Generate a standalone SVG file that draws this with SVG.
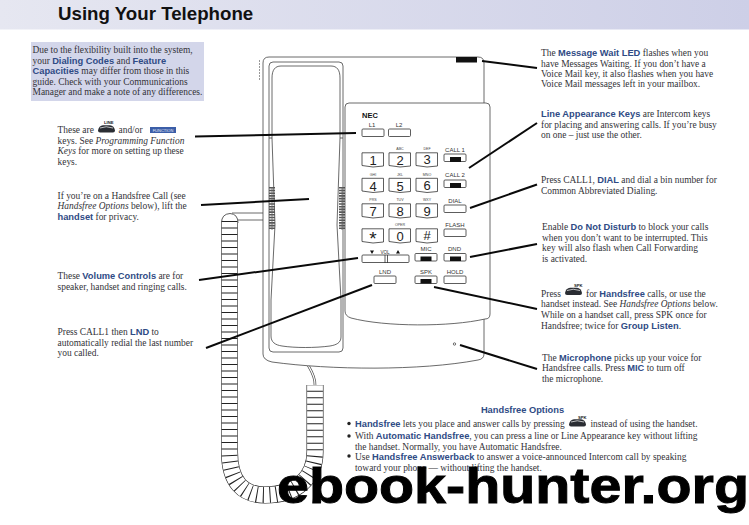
<svg xmlns="http://www.w3.org/2000/svg" width="749" height="525" viewBox="0 0 749 525">
<style>
text{font-family:"Liberation Serif","Times New Roman",serif;font-size:9.43px;fill:#333338}
.b{font-family:"Liberation Sans",Arial,sans-serif;font-weight:bold;font-size:9.3px;fill:#2f4b85}
.i{font-style:italic}
.t{font-family:"Liberation Sans",Arial,sans-serif;font-weight:bold;font-size:18.7px;fill:#111}
.k{font-family:"Liberation Sans",Arial,sans-serif;font-size:6px;fill:#333;text-anchor:middle}
.s{font-family:"Liberation Sans",Arial,sans-serif;font-size:3.6px;fill:#444;text-anchor:middle}
.n{font-family:"Liberation Sans",Arial,sans-serif;font-size:13px;fill:#222;text-anchor:middle}
.w{font-family:"Liberation Sans",Arial,sans-serif;font-weight:bold;font-size:50px;fill:#000;stroke:#000;stroke-width:.9}
.o{fill:none;stroke:#444;stroke-width:.8}
.key{fill:#fff;stroke:#333;stroke-width:.8}
.led{fill:#111}
.lead{stroke:#0a0a0a;stroke-width:2;fill:none}
.tag{font-family:"Liberation Sans",Arial,sans-serif;font-weight:bold;font-size:4.2px;fill:#222}
</style>
<defs>
<linearGradient id="hdr" x1="0" x2="1" y1="0" y2="0"><stop offset="0" stop-color="#e6e7f1"/><stop offset="1" stop-color="#cdcfe7"/></linearGradient>
<g id="icon"><path d="M0,6 Q1,1 5,0.8 L12,0.8 Q16,1 17,6 Q17,8 15,8 L2,8 Q0,8 0,6Z" fill="#2a2d33"/><path d="M2,3.5 Q8,1 15,3.5" fill="none" stroke="#fff" stroke-width=".7"/></g>
<path id="numkey" d="M0,0.8 H21.5 V14 L11,15 L0,13.5Z"/>
<rect id="fk" width="22" height="7.5" rx="1"/>
<path id="coilpath" d="M229.5,221 V452 C229.5,482 243,495 265,495 C296,495 315,478 315,452 V385"/>
</defs>

<g id="header"><rect width="749" height="29.5" fill="url(#hdr)"/><text class="t" x="58" y="20">Using Your Telephone</text></g>

<g id="note">
<rect x="31" y="42" width="173" height="59" fill="#d3d6ea"/>
<text x="32.5" y="53">Due to the flexibility built into the system,</text>
<text x="32.5" y="63.5">your <tspan class="b">Dialing Codes</tspan> and <tspan class="b">Feature</tspan></text>
<text x="32.5" y="74"><tspan class="b">Capacities</tspan> may differ from those in this</text>
<text x="32.5" y="84.5">guide. Check with your Communications</text>
<text x="32.5" y="95">Manager and make a note of any differences.</text>
</g>

<g id="telephone">
<path d="M303,352 C303,362 316,372 315,385" fill="none" stroke="#444" stroke-width="2.6"/><path d="M303,352 C303,362 316,372 315,385" fill="none" stroke="#fff" stroke-width="1.2"/>
<path d="M232,213 H263 M238,220 H263" class="o"/>
<path d="M221.5,223 Q221.5,214 230,213.5 Q238,214 238,223" fill="#fff" stroke="#333" stroke-width=".8"/>
<g id="coil" fill="none">
<use href="#coilpath" stroke="#222" stroke-width="17"/>
<use href="#coilpath" stroke="#fff" stroke-width="15.8"/>
<use href="#coilpath" stroke="#222" stroke-width="15.8" stroke-dasharray="1 5.5"/>
</g>
<path id="body" class="o" d="M263,63 Q263,57 269,57 H478 Q484,57 484,63 V354 Q484,359 478,360 C420,371 330,370 272,362 Q263,360 263,354Z" style="fill:#fff"/>
<rect class="led" x="456" y="57" width="21" height="5.5"/>
<path stroke="#999" stroke-width="1" stroke-dasharray="2 1" d="M259.5,60 V80" fill="none"/>
<g id="handset" class="o">
<path d="M269,66 Q269,62 273,62 H339 Q343,62 343,66 V348 Q343,352 339,352 H273 Q269,352 269,348Z" style="fill:#fff"/>
<path d="M272,78 C272,70 275,66 281,66 H331 C337,66 340,70 340,78 V138 L337,225 L341,300 V337 C341,343 336,345 330,346 C315,348 295,348 282,346 C275,345 271,342 271,336 V300 L275,225 L272,138Z"/>
<path d="M272,138 H269 M340,138 H343"/>
</g>
<path d="M272,187 V230 M342,187 V230" stroke="#555" stroke-width="6" stroke-dasharray="1.6 1.1" fill="none"/>
<path d="M272,187 V230 M342,187 V230" stroke="#666" stroke-width=".8" fill="none"/>
<path id="faceplate" class="o" d="M345,107 Q345,103 349,103 H486 Q490,103 490,107 V314 Q490,319 485,319 C450,327 385,327 351,318 Q345,316 345,311Z" style="fill:#fff"/>
<text x="362" y="118" style="font-family:'Liberation Sans',sans-serif;font-weight:bold;font-size:7.5px;fill:#111">NEC</text>
<g id="keys" class="key">
<use href="#fk" x="362" y="129"/><use href="#fk" x="388.5" y="129"/>
<use href="#numkey" x="362" y="152"/><use href="#numkey" x="389" y="152"/><use href="#numkey" x="416" y="152"/>
<use href="#numkey" x="362" y="177.5"/><use href="#numkey" x="389" y="177.5"/><use href="#numkey" x="416" y="177.5"/>
<use href="#numkey" x="362" y="203"/><use href="#numkey" x="389" y="203"/><use href="#numkey" x="416" y="203"/>
<use href="#numkey" x="362" y="228"/><use href="#numkey" x="389" y="228"/><use href="#numkey" x="416" y="228"/>
<use href="#fk" x="444" y="154"/><use href="#fk" x="444" y="180"/><use href="#fk" x="444" y="205"/><use href="#fk" x="444" y="229"/>
<use href="#fk" x="415" y="253.5"/><use href="#fk" x="444" y="253.5"/>
<rect x="362" y="255" width="47" height="7.5" rx="1"/><path d="M385,255 V263 M387.5,255 V263"/>
<use href="#fk" x="374" y="276"/><use href="#fk" x="415" y="276"/><use href="#fk" x="444" y="276"/>
</g>
<g id="leds" class="led">
<rect x="450" y="157" width="11" height="5"/><rect x="450" y="183" width="11" height="5"/>
<rect x="420.5" y="256.5" width="11" height="4.5"/><rect x="450" y="256.5" width="11" height="4.5"/><rect x="420.5" y="279" width="11" height="4.5"/>
</g>
<g id="key-labels">
<text class="k" x="372" y="127">L1</text><text class="k" x="399" y="127">L2</text>
<text class="k" x="455" y="152">CALL 1</text><text class="k" x="455" y="177">CALL 2</text><text class="k" x="455" y="203">DIAL</text><text class="k" x="455" y="227">FLASH</text>
<text class="k" x="426" y="251">MIC</text><text class="k" x="454.5" y="251">DND</text><text class="k" x="385" y="254" style="font-size:4.6px">VOL</text>
<path d="M370,250.5 h4 l-2,3.5z M396,253.5 h4 l-2,-3.5z" fill="#111"/>
<text class="k" x="385" y="274">LND</text><text class="k" x="426" y="274">SPK</text><text class="k" x="455" y="274">HOLD</text>
<text class="s" x="400" y="150">ABC</text><text class="s" x="427" y="150">DEF</text>
<text class="s" x="373" y="175.5">GHI</text><text class="s" x="400" y="175.5">JKL</text><text class="s" x="427" y="175.5">MNO</text>
<text class="s" x="373" y="201">PRS</text><text class="s" x="400" y="201">TUV</text><text class="s" x="427" y="201">WXY</text>
<text class="s" x="400" y="226">OPER</text>
<text class="n" x="373" y="165">1</text><text class="n" x="400" y="165">2</text><text class="n" x="427" y="164">3</text>
<text class="n" x="373" y="190.5">4</text><text class="n" x="400" y="190.5">5</text><text class="n" x="427" y="190">6</text>
<text class="n" x="373" y="216">7</text><text class="n" x="400" y="216">8</text><text class="n" x="427" y="215.5">9</text>
<text class="n" x="373" y="245" style="font-size:19px">*</text><text class="n" x="400" y="240.5">0</text><text class="n" x="427" y="240">#</text>
</g>
<circle cx="454.5" cy="344" r="1.2" fill="#fff" stroke="#333" stroke-width=".7"/>
</g>

<g id="connectors" class="lead">
<path d="M195,136.5 L356,133"/><path d="M201,205 L309,199"/><path d="M199,280 L358,258"/><path d="M206,348 L372,285"/>
<path d="M482,61 L537,68"/><path d="M469,168 L537,123"/><path d="M470,208 L537,184.5"/><path d="M470,257 L537,244"/><path d="M434,287 L537,309"/><path d="M460,345 L537,369"/>
</g>

<g id="left-notes">
<text x="57.5" y="133">These are</text><use href="#icon" x="98" y="124.5"/><text class="tag" x="104" y="124">LINE</text><text x="118.5" y="133">and/or</text>
<rect x="150" y="127" width="26" height="6" fill="#3b5ea8"/><text x="163" y="132" style="font-family:'Liberation Sans',sans-serif;font-size:4px;fill:#e8ecf8;text-anchor:middle">FUNCTION</text>
<text x="57.5" y="143.5">keys. See <tspan class="i">Programming Function</tspan></text>
<text x="57.5" y="154"><tspan class="i">Keys</tspan> for more on setting up these</text>
<text x="57.5" y="165">keys.</text>
<text x="57.5" y="198.5">If you’re on a Handsfree Call (see</text>
<text x="57.5" y="209"><tspan class="i">Handsfree Options</tspan> below), lift the</text>
<text x="57.5" y="219.5"><tspan class="b">handset</tspan> for privacy.</text>
<text x="57.5" y="279">These <tspan class="b">Volume Controls</tspan> are for</text>
<text x="57.5" y="289.5">speaker, handset and ringing calls.</text>
<text x="57.5" y="335">Press CALL1 then <tspan class="b">LND</tspan> to</text>
<text x="57.5" y="345.5">automatically redial the last number</text>
<text x="57.5" y="356">you called.</text>
</g>

<g id="right-notes">
<text x="541" y="56">The <tspan class="b">Message Wait LED</tspan> flashes when you</text>
<text x="541" y="66.5">have Messages Waiting. If you don’t have a</text>
<text x="541" y="76.5">Voice Mail key, it also flashes when you have</text>
<text x="541" y="87">Voice Mail messages left in your mailbox.</text>
<text x="541" y="117"><tspan class="b">Line Appearance Keys</tspan> are Intercom keys</text>
<text x="541" y="127.5">for placing and answering calls. If you’re busy</text>
<text x="541" y="138">on one – just use the other.</text>
<text x="541" y="183">Press CALL1, <tspan class="b">DIAL</tspan> and dial a bin number for</text>
<text x="541" y="194">Common Abbreviated Dialing.</text>
<text x="542" y="230">Enable <tspan class="b">Do Not Disturb</tspan> to block your calls</text>
<text x="542" y="240.5">when you don’t want to be interrupted. This</text>
<text x="542" y="251">key will also flash when Call Forwarding</text>
<text x="542" y="261.5">is activated.</text>
<text x="541" y="297">Press</text><use href="#icon" x="565" y="287"/><text class="tag" x="574" y="287">SPK</text>
<text x="586" y="297">for <tspan class="b">Handsfree</tspan> calls, or use the</text>
<text x="541" y="307">handset instead. See <tspan class="i">Handsfree Options</tspan> below.</text>
<text x="541" y="318">While on a handset call, press SPK once for</text>
<text x="541" y="328.5">Handsfree; twice for <tspan class="b">Group Listen</tspan>.</text>
<text x="542" y="360.5">The <tspan class="b">Microphone</tspan> picks up your voice for</text>
<text x="542" y="371">Handsfree calls. Press <tspan class="b">MIC</tspan> to turn off</text>
<text x="542" y="381.5">the microphone.</text>
</g>

<g id="handsfree-options">
<text class="b" x="522.5" y="413" text-anchor="middle">Handsfree Options</text>
<circle cx="349" cy="423.5" r="1.7" fill="#222"/><circle cx="349" cy="436" r="1.7" fill="#222"/><circle cx="349" cy="456" r="1.7" fill="#222"/>
<text x="355" y="427"><tspan class="b">Handsfree</tspan> lets you place and answer calls by pressing</text>
<use href="#icon" x="569" y="418.5"/><text class="tag" x="578" y="418.5">SPK</text>
<text x="590.5" y="427">instead of using the handset.</text>
<text x="355" y="439">With <tspan class="b">Automatic Handsfree</tspan>, you can press a line or Line Appearance key without lifting</text>
<text x="355" y="449.5">the handset. Normally, you have Automatic Handsfree.</text>
<text x="355" y="460">Use <tspan class="b">Handsfree Answerback</tspan> to answer a voice-announced Intercom call by speaking</text>
<text x="355" y="470.5">toward your phone — without lifting the handset.</text>
</g>

<g id="watermark"><text class="w" x="277" y="503" textLength="472" lengthAdjust="spacingAndGlyphs">ebook-hunter.org</text></g>
</svg>
